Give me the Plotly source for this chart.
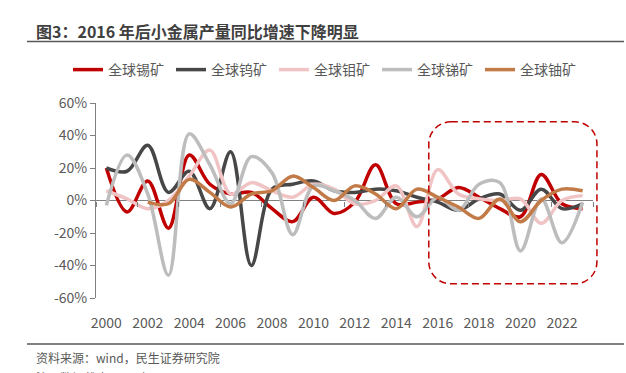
import plotly.graph_objects as go

# ---------------- data ----------------
years = list(range(2000, 2024))
tin = [20, -7, 12, -17, 28, 10, 4, 5, -5, -13, 2, -8, -1, 22, -2, -1, 1, 8, 2, -5, -10, 16, -2, -5]
tungsten = [20, 18, 34, 5, 18, -5, 30, -40, 7, 10, 12, 6, 5, 7, 6, 2, -1, -6, 1, 4, -6, 7, -5, -2]
molybdenum = [6, 1, -5, 0, 15, 31, 4, 11, 6, 2, 10, 7, -2, 0, 9, -16, 19, 4, 1, 0, 1, -14, 0, 3]
antimony = [-3, 28, 4, -46, 41, 22, -2, 27, 17, -21, 9, 6, 0, -11, 2, -10, 2, -6, 10, 11, -31, 1, -26, -1]
uranium_years = list(range(2002, 2024))
uranium = [-1, -2, 13, 5, -4, 4, 6, 15, 8, 0, 9, 4, -5, 7, 2, -4, -11, 1, -13, 0, 7, 6]

series_names = ["全球锡矿", "全球钨矿", "全球钼矿", "全球锑矿", "全球铀矿"]
series_colors = ["#C00000", "#474747", "#F0C4C4", "#BDBDBD", "#C27B47"]

xtick_vals = list(range(2000, 2023, 2))
ytick_vals = [-60, -40, -20, 0, 20, 40, 60]
ytick_text = [f"{v}%" for v in ytick_vals]

title_text = "图3：2016 年后小金属产量同比增速下降明显"
source_text = "资料来源：wind，民生证券研究院"
note_text = "注：数据截止 2023 年"

highlight_x = [2015.57, 2023.69]
highlight_y = [-51.3, 48.4]

# ---------------- layout geometry ----------------
W, H = 626, 373
L, R, T, B = 96, 33, 103, 75
PW, PH = W - L - R, H - T - B
XR = [1999.5, 2023.5]
YR = [-60, 60]
FONT = "Noto Sans CJK SC, Noto Sans, sans-serif"
TXT = "#595959"


def px2x(px):
    return (px - L) / PW


def py2y(py):
    return (H - B - py) / PH


def dx2p(x):
    return (x - XR[0]) / (XR[1] - XR[0])


def dy2p(y):
    return (y - YR[0]) / (YR[1] - YR[0])


fig = go.Figure()
data_sets = [(years, tin), (years, tungsten), (years, molybdenum), (years, antimony), (uranium_years, uranium)]
for (xs, ys), name, color in zip(data_sets, series_names, series_colors):
    fig.add_trace(go.Scatter(
        x=xs, y=ys, name=name, mode="lines",
        line=dict(color=color, width=3.5, shape="spline", smoothing=1.0),
        hoverinfo="skip",
    ))

# invisible trace on overlay axis that carries the tick marks on the zero line
fig.add_trace(go.Scatter(x=[XR[0], XR[1]], y=[0, 0], xaxis="x2", mode="lines",
                         line=dict(color="rgba(0,0,0,0)"), showlegend=False, hoverinfo="skip"))

# rounded dashed highlight box
x0, x1 = dx2p(highlight_x[0]), dx2p(highlight_x[1])
y0, y1 = dy2p(highlight_y[0]), dy2p(highlight_y[1])
rx, ry = 22 / PW, 22 / PH
k = 0.5523
path = (
    f"M {x0+rx},{y1} L {x1-rx},{y1} "
    f"C {x1-rx+k*rx},{y1} {x1},{y1-ry+k*ry} {x1},{y1-ry} "
    f"L {x1},{y0+ry} "
    f"C {x1},{y0+ry-k*ry} {x1-rx+k*rx},{y0} {x1-rx},{y0} "
    f"L {x0+rx},{y0} "
    f"C {x0+rx-k*rx},{y0} {x0},{y0+ry-k*ry} {x0},{y0+ry} "
    f"L {x0},{y1-ry} "
    f"C {x0},{y1-ry+k*ry} {x0+rx-k*rx},{y1} {x0+rx},{y1} Z"
)

shapes = [
    dict(type="path", xref="paper", yref="paper", path=path,
         line=dict(color="#C00000", width=1.5, dash="7px,4px")),
    dict(type="line", xref="paper", yref="paper", x0=px2x(27), x1=px2x(624), y0=py2y(41.5), y1=py2y(41.5),
         line=dict(color="#595959", width=1.5)),
    dict(type="line", xref="paper", yref="paper", x0=px2x(27), x1=px2x(624), y0=py2y(344), y1=py2y(344),
         line=dict(color="#595959", width=1.5)),
]

annotations = [
    dict(text=f"<b>{title_text}</b>", xref="paper", yref="paper", x=px2x(34), y=py2y(31),
         xanchor="left", yanchor="middle", showarrow=False,
         font=dict(family=FONT, size=16, color="#404040")),
    dict(text=source_text, xref="paper", yref="paper", x=px2x(34), y=py2y(357),
         xanchor="left", yanchor="middle", showarrow=False,
         font=dict(family=FONT, size=12, color=TXT)),
    dict(text=note_text, xref="paper", yref="paper", x=px2x(34), y=py2y(377),
         xanchor="left", yanchor="middle", showarrow=False,
         font=dict(family=FONT, size=12, color=TXT)),
]

fig.update_layout(
    width=W, height=H,
    margin=dict(l=L, r=R, t=T, b=B, pad=0, autoexpand=False),
    paper_bgcolor="white", plot_bgcolor="white",
    font=dict(family=FONT, size=14, color=TXT),
    showlegend=True,
    legend=dict(orientation="h", x=px2x(68), y=py2y(70), xanchor="left", yanchor="middle",
                font=dict(family=FONT, size=14, color=TXT), bgcolor="rgba(0,0,0,0)",
                itemwidth=30, tracegroupgap=0, entrywidth=58, entrywidthmode="pixels"),
    xaxis=dict(range=XR, tickvals=xtick_vals, ticktext=[str(v) for v in xtick_vals],
               showgrid=False, zeroline=False, showline=False,
               ticks="outside", ticklen=12, tickcolor="rgba(0,0,0,0)",
               tickfont=dict(family=FONT, size=14, color=TXT)),
    xaxis2=dict(range=XR, overlaying="x", anchor="free", position=0.5, side="bottom",
                tickvals=[v + 0.5 for v in range(1999, 2024, 2)], showticklabels=False,
                ticks="outside", ticklen=5, tickcolor="#808080", tickwidth=1,
                showgrid=False, zeroline=False, showline=False),
    yaxis=dict(range=YR, tickvals=ytick_vals, ticktext=ytick_text,
               showgrid=False, zeroline=True, zerolinecolor="#808080", zerolinewidth=1,
               showline=True, linecolor="#808080", linewidth=1,
               ticks="outside", ticklen=5, tickcolor="#808080",
               tickfont=dict(family=FONT, size=14, color=TXT)),
    shapes=shapes,
    annotations=annotations,
)

fig.write_html(
    "out.html",
    config={"displayModeBar": False, "staticPlot": True},
    post_script="document.body.style.margin='0';document.body.style.overflow='hidden';",
)
